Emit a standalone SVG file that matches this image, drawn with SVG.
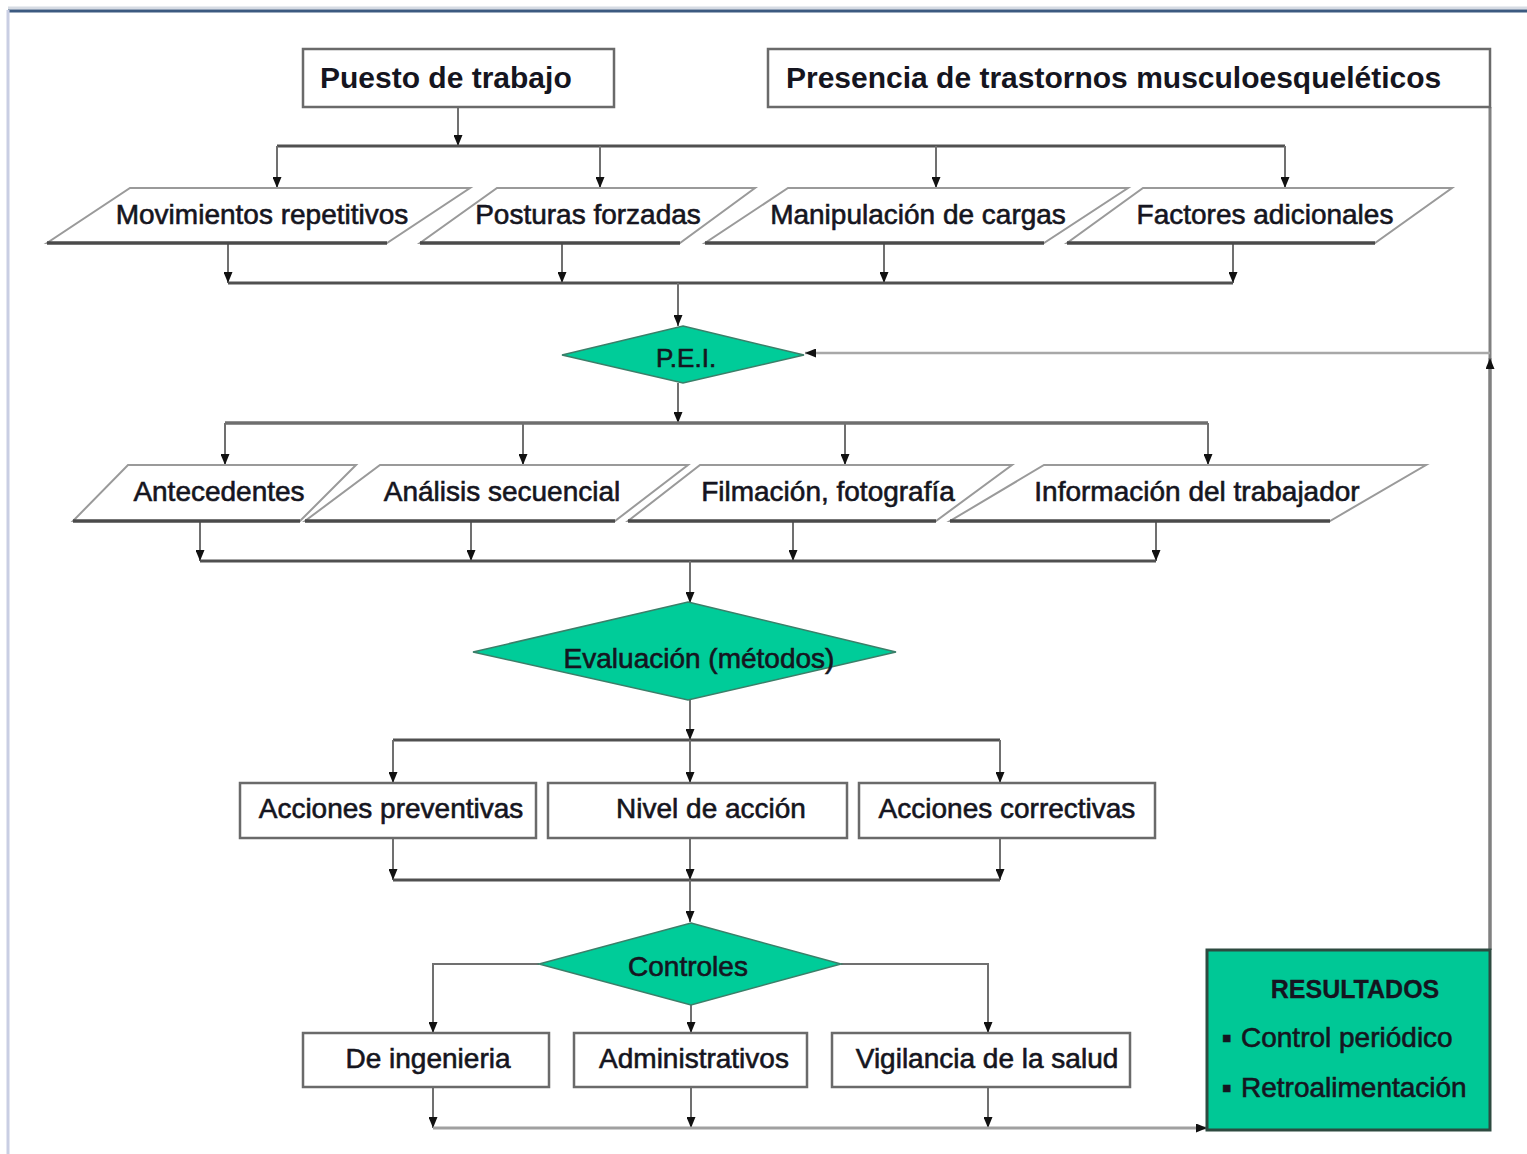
<svg xmlns="http://www.w3.org/2000/svg" width="1527" height="1154" viewBox="0 0 1527 1154">
<style>
.t{font-family:"Liberation Sans",Arial,sans-serif;font-size:28px;fill:#151520;stroke:#151520;stroke-width:0.6;text-anchor:middle}
.tb{font-family:"Liberation Sans",Arial,sans-serif;font-size:30px;font-weight:bold;fill:#151520}
.box{fill:#fff;stroke:#6a6a6a;stroke-width:2.5}
.para{fill:#fff;stroke:#9a9a9a;stroke-width:2}
.base{stroke:#4a4a4a;stroke-width:3.5;fill:none}
.dia{fill:#00CC99;stroke:#3b7f69;stroke-width:1.5}
.bus{stroke:#505050;stroke-width:3;fill:none}
.c{stroke:#707070;stroke-width:2;fill:none;marker-end:url(#ah)}
.cl{stroke:#808080;stroke-width:3;fill:none}
</style>
<defs>
<marker id="ah" markerUnits="userSpaceOnUse" markerWidth="11" markerHeight="9" viewBox="0 0 11 9" refX="11" refY="4.5" orient="auto">
<path d="M0,0 L11,4.5 L0,9 z" fill="#111"/>
</marker>
</defs>
<rect x="0" y="0" width="1527" height="1154" fill="#fff"/>
<line x1="8" y1="8" x2="1527" y2="8" stroke="#d6dbe3" stroke-width="3"/>
<line x1="8" y1="11" x2="1527" y2="11" stroke="#3c5a80" stroke-width="3"/>
<line x1="8" y1="10" x2="8" y2="1154" stroke="#c9cee3" stroke-width="3"/>

<g id="connectors">
<line class="c" x1="458" y1="107" x2="458" y2="146"/>
<line class="bus" x1="277" y1="146" x2="1285" y2="146"/>
<line class="c" x1="277" y1="146" x2="277" y2="188"/>
<line class="c" x1="600" y1="146" x2="600" y2="188"/>
<line class="c" x1="936" y1="146" x2="936" y2="188"/>
<line class="c" x1="1285" y1="146" x2="1285" y2="188"/>
<line class="c" x1="228" y1="243" x2="228" y2="283"/>
<line class="c" x1="562" y1="243" x2="562" y2="283"/>
<line class="c" x1="884" y1="243" x2="884" y2="283"/>
<line class="c" x1="1233" y1="243" x2="1233" y2="283"/>
<line class="bus" x1="228" y1="283" x2="1233" y2="283"/>
<line class="c" x1="678" y1="283" x2="678" y2="326"/>
<line class="cl" x1="1490" y1="107" x2="1490" y2="950"/>
<line class="c" x1="1490" y1="950" x2="1490" y2="358" style="stroke:#808080;stroke-width:3"/>
<line class="c" x1="1490" y1="353" x2="805" y2="353" style="stroke:#a8a8a8;stroke-width:2.5"/>
<line class="c" x1="678" y1="383" x2="678" y2="423"/>
<line class="bus" x1="225" y1="423" x2="1208" y2="423" style="stroke:#6e6e6e;stroke-width:3.5"/>
<line class="c" x1="225" y1="423" x2="225" y2="465"/>
<line class="c" x1="523" y1="423" x2="523" y2="465"/>
<line class="c" x1="845" y1="423" x2="845" y2="465"/>
<line class="c" x1="1208" y1="423" x2="1208" y2="465"/>
<line class="c" x1="200" y1="521" x2="200" y2="561"/>
<line class="c" x1="471" y1="521" x2="471" y2="561"/>
<line class="c" x1="793" y1="521" x2="793" y2="561"/>
<line class="c" x1="1156" y1="521" x2="1156" y2="561"/>
<line class="bus" x1="200" y1="561" x2="1156" y2="561"/>
<line class="c" x1="690" y1="561" x2="690" y2="603"/>
<line class="c" x1="690" y1="700" x2="690" y2="740"/>
<line class="bus" x1="393" y1="740" x2="1000" y2="740"/>
<line class="c" x1="393" y1="740" x2="393" y2="783"/>
<line class="c" x1="690" y1="740" x2="690" y2="783"/>
<line class="c" x1="1000" y1="740" x2="1000" y2="783"/>
<line class="c" x1="393" y1="838" x2="393" y2="880"/>
<line class="c" x1="690" y1="838" x2="690" y2="880"/>
<line class="c" x1="1000" y1="838" x2="1000" y2="880"/>
<line class="bus" x1="393" y1="880" x2="1000" y2="880"/>
<line class="c" x1="690" y1="880" x2="690" y2="922"/>
<polyline class="c" points="539,964 433,964 433,1033"/>
<polyline class="c" points="841,964 988,964 988,1033"/>
<line class="c" x1="691" y1="1005" x2="691" y2="1033"/>
<line class="c" x1="433" y1="1087" x2="433" y2="1128"/>
<line class="c" x1="691" y1="1087" x2="691" y2="1128"/>
<line class="c" x1="988" y1="1087" x2="988" y2="1128"/>
<line class="c" x1="433" y1="1128" x2="1207" y2="1128" style="stroke:#a0a0a0;stroke-width:3"/>
</g>

<g id="puesto">
<rect class="box" x="303" y="49" width="311" height="58"/>
<text class="tb" x="320" y="88">Puesto de trabajo</text>
</g>
<g id="presencia">
<rect class="box" x="768" y="49" width="722" height="58"/>
<text class="tb" x="786" y="88">Presencia de trastornos musculoesqueléticos</text>
</g>

<g id="movimientos">
<polygon class="para" points="130,188 470,188 387,243 47,243"/>
<line class="base" x1="47" y1="243" x2="387" y2="243"/>
<text class="t" x="262" y="224">Movimientos repetitivos</text>
</g>
<g id="posturas">
<polygon class="para" points="497,188 755,188 680,243 420,243"/>
<line class="base" x1="420" y1="243" x2="680" y2="243"/>
<text class="t" x="588" y="224">Posturas forzadas</text>
</g>
<g id="manipulacion">
<polygon class="para" points="788,188 1128,188 1044,243 705,243"/>
<line class="base" x1="705" y1="243" x2="1044" y2="243"/>
<text class="t" x="918" y="224">Manipulación de cargas</text>
</g>
<g id="factores">
<polygon class="para" points="1143,188 1452,188 1375,243 1067,243"/>
<line class="base" x1="1067" y1="243" x2="1375" y2="243"/>
<text class="t" x="1265" y="224">Factores adicionales</text>
</g>

<g id="pei">
<polygon class="dia" points="683,326 804,355 683,383 562,355"/>
<text class="t" x="686" y="367" style="font-size:26px">P.E.I.</text>
</g>

<g id="antecedentes">
<polygon class="para" points="128,465 356,465 300,521 73,521"/>
<line class="base" x1="73" y1="521" x2="300" y2="521"/>
<text class="t" x="219" y="501">Antecedentes</text>
</g>
<g id="analisis">
<polygon class="para" points="380,465 688,465 615,521 305,521"/>
<line class="base" x1="305" y1="521" x2="615" y2="521"/>
<text class="t" x="502" y="501">Análisis secuencial</text>
</g>
<g id="filmacion">
<polygon class="para" points="700,465 1012,465 936,521 628,521"/>
<line class="base" x1="628" y1="521" x2="936" y2="521"/>
<text class="t" x="828" y="501">Filmación, fotografía</text>
</g>
<g id="informacion">
<polygon class="para" points="1044,465 1426,465 1330,521 950,521"/>
<line class="base" x1="950" y1="521" x2="1330" y2="521"/>
<text class="t" x="1197" y="501">Información del trabajador</text>
</g>

<g id="evaluacion">
<polygon class="dia" points="688,602 896,652 688,700 473,652"/>
<text class="t" x="699" y="668">Evaluación (métodos)</text>
</g>

<g id="preventivas">
<rect class="box" x="240" y="783" width="296" height="55"/>
<text class="t" x="391" y="818">Acciones preventivas</text>
</g>
<g id="nivel">
<rect class="box" x="548" y="783" width="299" height="55"/>
<text class="t" x="711" y="818">Nivel de acción</text>
</g>
<g id="correctivas">
<rect class="box" x="859" y="783" width="296" height="55"/>
<text class="t" x="1007" y="818">Acciones correctivas</text>
</g>

<g id="controles">
<polygon class="dia" points="691,923 841,964 691,1005 539,964"/>
<text class="t" x="688" y="976">Controles</text>
</g>

<g id="ingenieria">
<rect class="box" x="303" y="1033" width="246" height="54"/>
<text class="t" x="428" y="1068">De ingenieria</text>
</g>
<g id="administrativos">
<rect class="box" x="574" y="1033" width="233" height="54"/>
<text class="t" x="694" y="1068">Administrativos</text>
</g>
<g id="vigilancia">
<rect class="box" x="832" y="1033" width="298" height="54"/>
<text class="t" x="987" y="1068">Vigilancia de la salud</text>
</g>

<g id="resultados">
<rect x="1207" y="950" width="283" height="180" fill="#00C896" stroke="#2d4a40" stroke-width="3"/>
<text class="t" x="1355" y="998" style="font-size:25px;font-weight:bold;stroke-width:0.3">RESULTADOS</text>
<text class="t" style="text-anchor:start"><tspan x="1222" y="1047">▪</tspan><tspan x="1241" y="1047">Control periódico</tspan></text>
<text class="t" style="text-anchor:start"><tspan x="1222" y="1097">▪</tspan><tspan x="1241" y="1097">Retroalimentación</tspan></text>
</g>
</svg>
